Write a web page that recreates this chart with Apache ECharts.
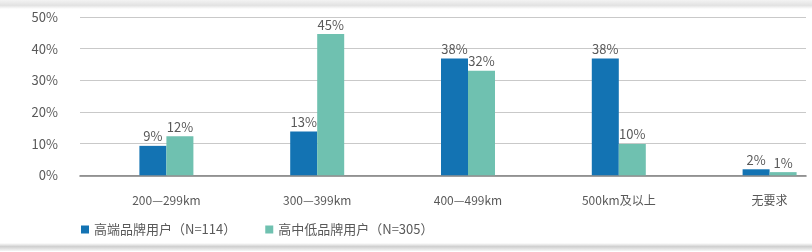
<!DOCTYPE html>
<html>
<head>
<meta charset="utf-8">
<script src="https://cdn.jsdelivr.net/npm/echarts@6/dist/echarts.min.js"></script>
<style>html,body{margin:0;padding:0;background:#fff}#c{width:812px;height:252px}</style>
</head>
<body>
<div id="c"></div>
<script>
var categories = ['200\u2014299km', '300\u2014399km', '400\u2014499km', '500km及以上', '无要求'];
var seriesNames = ['高端品牌用户（N=114）', '高中低品牌用户（N=305）'];
var highEnd = [9.3, 13.8, 36.9, 36.9, 1.9];
var midLow = [12.3, 44.6, 33.0, 9.9, 1.0];
var highEndLabels = ['9%', '13%', '38%', '38%', '2%'];
var midLowLabels = ['12%', '45%', '32%', '10%', '1%'];
var yTicks = [0, 10, 20, 30, 40, 50];

var FONT = '"Noto Sans CJK SC", "Noto Sans", sans-serif';
var TXT = '#595959';
var chart = echarts.init(document.getElementById('c'), null, {renderer: 'canvas'});
chart.setOption({
  animation: false,
  textStyle: {fontFamily: FONT},
  graphic: [
    {type: 'rect', shape: {x: 0, y: 0, width: 812, height: 9}, silent: true,
     style: {fill: new echarts.graphic.LinearGradient(0, 0, 0, 1, [
       {offset: 0, color: '#f3f3f3'}, {offset: 0.6, color: '#e2e2e2'}, {offset: 1, color: '#ffffff'}])}},
    {type: 'rect', shape: {x: 0, y: 243, width: 812, height: 8}, silent: true,
     style: {fill: new echarts.graphic.LinearGradient(0, 0, 0, 1, [
       {offset: 0, color: '#ffffff'}, {offset: 0.45, color: '#cfcfcf'}, {offset: 1, color: '#f6f6f6'}])}}
  ],
  legend: {
    left: 76, top: 218,
    itemWidth: 8, itemHeight: 8, itemGap: 29,
    icon: 'rect',
    textStyle: {fontSize: 13, color: TXT, fontFamily: FONT},
    data: seriesNames
  },
  grid: [
    {left: 80, right: 6, top: 17, bottom: 76.7, outerBoundsMode: 'none'},
    {left: 91, width: 754, top: 17, bottom: 76.7, outerBoundsMode: 'none', containLabel: false}
  ],
  xAxis: [
    {gridIndex: 0, type: 'category', data: categories, axisTick: {show: false}, axisLabel: {show: false},
     axisLine: {show: true, lineStyle: {color: '#7f7f7f', width: 1.6}}},
    {gridIndex: 1, type: 'category', data: categories, axisTick: {show: false}, axisLine: {show: false},
     axisLabel: {color: TXT, fontSize: 12, margin: 19, fontFamily: FONT}}
  ],
  yAxis: [
    {gridIndex: 0, type: 'value', min: yTicks[0], max: yTicks[yTicks.length - 1], interval: 10,
     axisLine: {show: false}, axisTick: {show: false},
     axisLabel: {formatter: '{value}%', color: TXT, fontSize: 13, margin: 22, fontFamily: FONT},
     splitLine: {lineStyle: {color: '#c9c9c9', width: 1.2}}},
    {gridIndex: 1, type: 'value', min: yTicks[0], max: yTicks[yTicks.length - 1], interval: 10,
     show: false, splitLine: {show: false}}
  ],
  series: [
    {name: seriesNames[0], type: 'bar', xAxisIndex: 1, yAxisIndex: 1, data: highEnd,
     barWidth: 27, barGap: '0%', itemStyle: {color: '#1373b3'},
     label: {show: true, position: 'top', distance: 3, color: TXT, fontSize: 13, fontFamily: FONT,
       formatter: function (p) { return highEndLabels[p.dataIndex]; }}},
    {name: seriesNames[1], type: 'bar', xAxisIndex: 1, yAxisIndex: 1, data: midLow,
     barWidth: 27, barGap: '0%', itemStyle: {color: '#6fc1b0'},
     label: {show: true, position: 'top', distance: 3, color: TXT, fontSize: 13, fontFamily: FONT,
       formatter: function (p) { return midLowLabels[p.dataIndex]; }}}
  ]
});
</script>
</body>
</html>
